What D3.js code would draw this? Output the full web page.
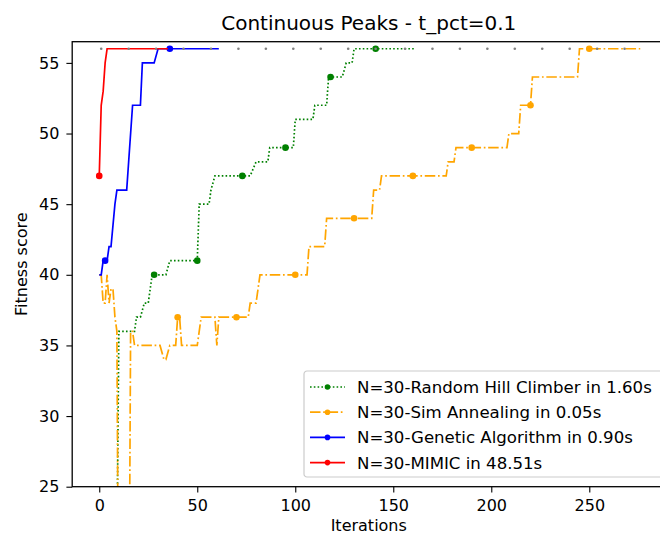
<!DOCTYPE html>
<html>
<head>
<meta charset="utf-8">
<script src="https://cdn.jsdelivr.net/npm/d3@7"></script>
<style>
  body { margin: 0; background: #fff; }
  svg { display: block; font-family: "DejaVu Sans", sans-serif; }
</style>
</head>
<body>
<svg id="chart" width="660" height="535"></svg>
<script>
// axis ticks
const iterTicks = [0, 50, 100, 150, 200, 250];
const fitnessTicks = [25, 30, 35, 40, 45, 50, 55];

// [iteration, fitness] points
const rhcPoints = [[0, 20], [9, 20], [10, 36], [18, 36], [19, 37], [21, 37], [23, 38], [25, 38], [27, 40], [34, 40], [36, 41], [50, 41], [51, 45], [56, 45], [57, 46], [59, 47], [77, 47], [80, 48], [86, 48], [87, 49], [99, 49], [100, 51], [109, 51], [110, 52], [116, 52], [117, 54], [124, 54], [126, 55], [129, 55], [130, 56], [161, 56]];
const saPoints = [[0, 40], [1, 40], [2, 38], [3, 38], [4, 40], [5, 38], [6, 39], [7, 39], [8, 37], [9, 36], [10, 10], [15, 10], [16, 36], [17, 36], [18, 35], [31, 35], [33, 34], [34, 34], [36, 35], [39, 35], [40, 37], [41, 37], [42, 35], [50, 35], [52, 37], [59, 37], [60, 35], [61, 37], [76, 37], [77, 38], [80, 38], [82, 40], [106, 40], [107, 42], [115, 42], [116, 44], [139, 44], [140, 46], [143, 46], [144, 47], [177, 47], [178, 48], [181, 48], [182, 49], [208, 49], [209, 50], [214, 50], [215, 52], [220, 52], [221, 54], [244, 54], [245, 56], [276, 56]];
const gaPoints = [[0, 40], [1, 40], [2, 41], [4, 41], [5, 42], [6, 42], [8, 45], [9, 46], [14, 46], [15, 48], [17, 52], [21, 52], [22, 55], [28, 55], [30, 56], [61, 56]];
const mimicPoints = [[0, 47], [1, 52], [2, 53], [3, 55], [4, 56], [35, 56]];

// iterations that carry a marker
const rhcMarkers = [6, 28, 50, 73, 95, 118, 141];
const saMarkers = [10, 40, 70, 100, 130, 160, 190, 220, 250];
const gaMarkers = [3, 36];
const mimicMarkers = [0];

// grey dots along the optimum
const optimumIters = [1, 15, 29, 43, 57, 71, 85, 99, 113, 127, 141, 156, 170, 184, 198, 212, 226, 240, 254, 268];
const optimumFitness = 56;

const seriesLabels = [
  "N=30-Random Hill Climber in 1.60s",
  "N=30-Sim Annealing in 0.05s",
  "N=30-Genetic Algorithm in 0.90s",
  "N=30-MIMIC in 48.51s"
];

const series = [
  { points: rhcPoints, marks: rhcMarkers, color: "green", dash: "1.6,2.2" },
  { points: saPoints, marks: saMarkers, color: "orange", dash: "10.5,2.7,1.7,2.7" },
  { points: gaPoints, marks: gaMarkers, color: "blue", dash: null },
  { points: mimicPoints, marks: mimicMarkers, color: "red", dash: null }
];

const svg = d3.select("#chart");
const plotLeft = 72.2, plotRight = 667.3, plotTop = 41.7, plotBottom = 486.7;

const x = d3.scaleLinear().domain([-13.8, 289.8]).range([plotLeft, plotRight]);
const y = d3.scaleLinear().domain([25, 56.5]).range([plotBottom, plotTop]);

svg.append("defs").append("clipPath").attr("id", "plotclip")
  .append("rect")
  .attr("x", plotLeft).attr("y", plotTop)
  .attr("width", plotRight - plotLeft).attr("height", plotBottom - plotTop);

const plot = svg.append("g").attr("clip-path", "url(#plotclip)");

const line = d3.line().x(d => x(d[0])).y(d => y(d[1]));

series.forEach(s => {
  plot.append("path")
    .datum(s.points)
    .attr("fill", "none")
    .attr("stroke", s.color)
    .attr("stroke-width", 1.7)
    .attr("stroke-dasharray", s.dash)
    .attr("d", line);

  // value at a marker iteration, read along the polyline
  const along = d3.scaleLinear()
    .domain(s.points.map(p => p[0]))
    .range(s.points.map(p => p[1]));

  plot.selectAll(null)
    .data(s.marks)
    .join("circle")
    .attr("cx", d => x(d))
    .attr("cy", d => y(along(d)))
    .attr("r", 3.3)
    .attr("fill", s.color);
});

plot.selectAll(".opt")
  .data(optimumIters)
  .join("circle")
  .attr("class", "opt")
  .attr("cx", d => x(d))
  .attr("cy", y(optimumFitness))
  .attr("r", 1.3)
  .attr("fill", "#808080");

// axes
const xAxis = d3.axisBottom(x).tickValues(iterTicks).tickSize(5.8).tickPadding(7).tickFormat(d3.format("d"));
const yAxis = d3.axisLeft(y).tickValues(fitnessTicks).tickSize(5.8).tickPadding(7).tickFormat(d3.format("d"));

const gx = svg.append("g").attr("transform", "translate(0," + plotBottom + ")").call(xAxis);
const gy = svg.append("g").attr("transform", "translate(" + plotLeft + ",0)").call(yAxis);
[gx, gy].forEach(g => {
  g.select(".domain").remove();
  g.selectAll("line").attr("stroke", "#000").attr("stroke-width", 1.1);
  g.selectAll("text").attr("fill", "#000").style("font-size", "16px").style("font-family", "DejaVu Sans");
});

svg.append("rect")
  .attr("x", plotLeft).attr("y", plotTop)
  .attr("width", plotRight - plotLeft).attr("height", plotBottom - plotTop)
  .attr("fill", "none").attr("stroke", "#000").attr("stroke-width", 1.3);

// titles
svg.append("text")
  .attr("x", (plotLeft + plotRight) / 2 - 1).attr("y", 30)
  .attr("text-anchor", "middle")
  .style("font-size", "20px")
  .text("Continuous Peaks - t_pct=0.1");

svg.append("text")
  .attr("x", (plotLeft + plotRight) / 2 - 1).attr("y", 531)
  .attr("text-anchor", "middle")
  .style("font-size", "16px")
  .text("Iterations");

svg.append("text")
  .attr("transform", "translate(27," + (plotTop + plotBottom) / 2 + ") rotate(-90)")
  .attr("text-anchor", "middle")
  .style("font-size", "16px")
  .text("Fitness score");

// legend
const legend = svg.append("g").attr("transform", "translate(304,371)");
legend.append("rect")
  .attr("width", 362).attr("height", 106)
  .attr("rx", 3)
  .attr("fill", "#fff").attr("fill-opacity", 0.8)
  .attr("stroke", "#ccc").attr("stroke-width", 1.2);

const rows = legend.selectAll(".row")
  .data(series)
  .join("g")
  .attr("class", "row")
  .attr("transform", (d, i) => "translate(0," + (16 + i * 25.2) + ")");

rows.append("line")
  .attr("x1", 6).attr("x2", 41)
  .attr("stroke", d => d.color)
  .attr("stroke-width", 1.7)
  .attr("stroke-dasharray", d => d.dash);
rows.append("circle")
  .attr("cx", 23.5).attr("r", 2.8)
  .attr("fill", d => d.color);
rows.append("text")
  .attr("x", 53).attr("y", 6)
  .style("font-size", "16.6px")
  .text((d, i) => seriesLabels[i]);
</script>
</body>
</html>
